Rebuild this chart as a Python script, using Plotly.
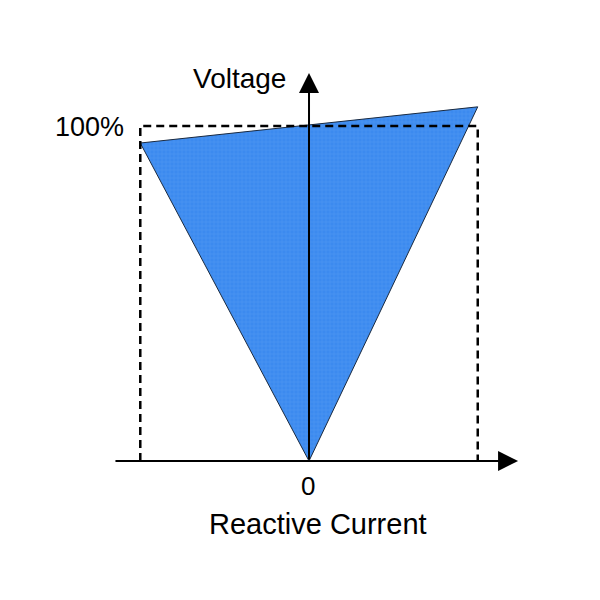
import plotly.graph_objects as go

# Data (current in normalized units, voltage in %)
tri_current = [-1.0, 1.0, 0.0, -1.0]
tri_voltage = [94.9, 105.7, 0.0, 94.9]
rect_current = [-1.0, -1.0, 1.0, 1.0]
rect_voltage = [0.0, 100.0, 100.0, 0.0]
x_axis_span = [-1.156, 1.239]
y_axis_top = 115.8

fig = go.Figure()

fig.add_trace(go.Scatter(
    x=tri_current, y=tri_voltage, mode="lines", fill="toself",
    fillcolor="#3c8aef", line=dict(color="#1a2a40", width=1),
    fillpattern=dict(shape="+", fgcolor="rgba(160,198,255,0.6)", bgcolor="#3c8aef",
                     size=4, solidity=0.15),
    hoverinfo="skip", showlegend=False))

fig.add_trace(go.Scatter(
    x=rect_current, y=rect_voltage, mode="lines",
    line=dict(color="black", width=2.5, dash="8px,5px"),
    hoverinfo="skip", showlegend=False))

# axes lines with arrows
fig.add_annotation(x=x_axis_span[1], y=0, ax=x_axis_span[0], ay=0,
                   xref="x", yref="y", axref="x", ayref="y",
                   showarrow=True, arrowhead=2, arrowsize=2.0, arrowwidth=2,
                   arrowcolor="black", text="")
fig.add_annotation(x=0, y=y_axis_top, ax=0, ay=0,
                   xref="x", yref="y", axref="x", ayref="y",
                   showarrow=True, arrowhead=2, arrowsize=2.0, arrowwidth=2,
                   arrowcolor="black", text="")

font = dict(family="Liberation Sans, Arial, sans-serif", color="black")
fig.add_annotation(x=-0.412, y=114.3, text="Voltage", showarrow=False,
                   font=dict(size=28, **font), xanchor="center", yanchor="middle")
fig.add_annotation(x=-1.084, y=99.7, text="100%", showarrow=False,
                   font=dict(size=27, **font), xanchor="right", yanchor="middle")
fig.add_annotation(x=-0.006, y=-7.4, text="0", showarrow=False,
                   font=dict(size=26, **font), xanchor="center", yanchor="middle")
fig.add_annotation(x=0.056, y=-18.8, text="Reactive Current", showarrow=False,
                   font=dict(size=29, **font), xanchor="center", yanchor="middle")

fig.update_xaxes(range=[-1.784, 1.772], visible=False, fixedrange=True)
fig.update_yaxes(range=[-43.88, 135.2], visible=False, fixedrange=True)
fig.update_layout(width=600, height=600, margin=dict(l=0, r=0, t=0, b=0),
                  plot_bgcolor="white", paper_bgcolor="white", showlegend=False)

fig.write_html("out.html")
